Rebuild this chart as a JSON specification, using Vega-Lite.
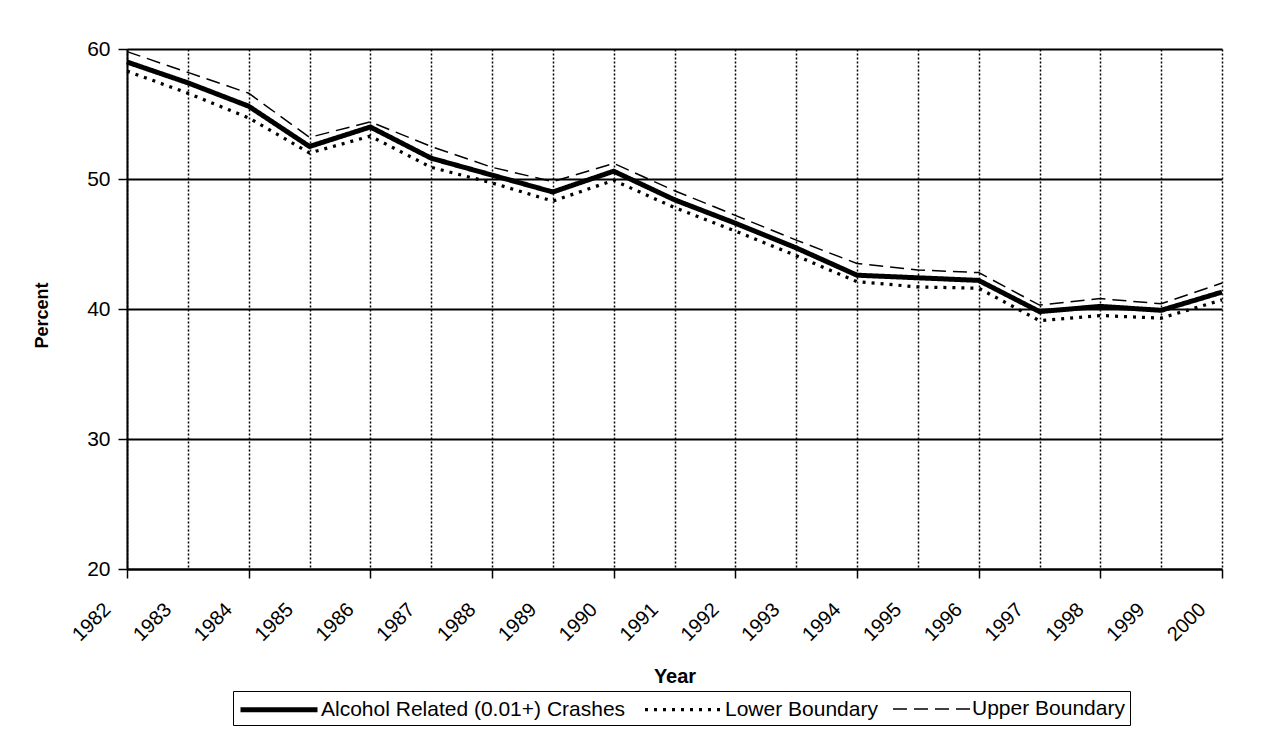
{
  "$schema": "https://vega.github.io/schema/vega-lite/v6.json",
  "width": 1095,
  "height": 520,
  "autosize": {"type": "none"},
  "padding": {"left": 127, "top": 49, "right": 46, "bottom": 167},
  "background": "white",
  "config": {
    "font": "Liberation Sans",
    "view": {"stroke": null}
  },
  "data": {
    "values": [
      {"Year": 1982, "series": "Alcohol Related (0.01+) Crashes", "value": 59.0},
      {"Year": 1983, "series": "Alcohol Related (0.01+) Crashes", "value": 57.4},
      {"Year": 1984, "series": "Alcohol Related (0.01+) Crashes", "value": 55.6},
      {"Year": 1985, "series": "Alcohol Related (0.01+) Crashes", "value": 52.5},
      {"Year": 1986, "series": "Alcohol Related (0.01+) Crashes", "value": 54.0},
      {"Year": 1987, "series": "Alcohol Related (0.01+) Crashes", "value": 51.6},
      {"Year": 1988, "series": "Alcohol Related (0.01+) Crashes", "value": 50.3},
      {"Year": 1989, "series": "Alcohol Related (0.01+) Crashes", "value": 49.0},
      {"Year": 1990, "series": "Alcohol Related (0.01+) Crashes", "value": 50.6},
      {"Year": 1991, "series": "Alcohol Related (0.01+) Crashes", "value": 48.4},
      {"Year": 1992, "series": "Alcohol Related (0.01+) Crashes", "value": 46.6},
      {"Year": 1993, "series": "Alcohol Related (0.01+) Crashes", "value": 44.7},
      {"Year": 1994, "series": "Alcohol Related (0.01+) Crashes", "value": 42.6},
      {"Year": 1995, "series": "Alcohol Related (0.01+) Crashes", "value": 42.4},
      {"Year": 1996, "series": "Alcohol Related (0.01+) Crashes", "value": 42.2},
      {"Year": 1997, "series": "Alcohol Related (0.01+) Crashes", "value": 39.8},
      {"Year": 1998, "series": "Alcohol Related (0.01+) Crashes", "value": 40.2},
      {"Year": 1999, "series": "Alcohol Related (0.01+) Crashes", "value": 39.9},
      {"Year": 2000, "series": "Alcohol Related (0.01+) Crashes", "value": 41.3},
      {"Year": 1982, "series": "Lower Boundary", "value": 58.3},
      {"Year": 1983, "series": "Lower Boundary", "value": 56.6},
      {"Year": 1984, "series": "Lower Boundary", "value": 54.7},
      {"Year": 1985, "series": "Lower Boundary", "value": 52.0},
      {"Year": 1986, "series": "Lower Boundary", "value": 53.3},
      {"Year": 1987, "series": "Lower Boundary", "value": 50.9},
      {"Year": 1988, "series": "Lower Boundary", "value": 49.7},
      {"Year": 1989, "series": "Lower Boundary", "value": 48.3},
      {"Year": 1990, "series": "Lower Boundary", "value": 49.9},
      {"Year": 1991, "series": "Lower Boundary", "value": 47.8},
      {"Year": 1992, "series": "Lower Boundary", "value": 46.0},
      {"Year": 1993, "series": "Lower Boundary", "value": 44.1},
      {"Year": 1994, "series": "Lower Boundary", "value": 42.1},
      {"Year": 1995, "series": "Lower Boundary", "value": 41.7},
      {"Year": 1996, "series": "Lower Boundary", "value": 41.6},
      {"Year": 1997, "series": "Lower Boundary", "value": 39.1},
      {"Year": 1998, "series": "Lower Boundary", "value": 39.5},
      {"Year": 1999, "series": "Lower Boundary", "value": 39.3},
      {"Year": 2000, "series": "Lower Boundary", "value": 40.7},
      {"Year": 1982, "series": "Upper Boundary", "value": 59.8},
      {"Year": 1983, "series": "Upper Boundary", "value": 58.2},
      {"Year": 1984, "series": "Upper Boundary", "value": 56.6},
      {"Year": 1985, "series": "Upper Boundary", "value": 53.2},
      {"Year": 1986, "series": "Upper Boundary", "value": 54.4},
      {"Year": 1987, "series": "Upper Boundary", "value": 52.5},
      {"Year": 1988, "series": "Upper Boundary", "value": 50.9},
      {"Year": 1989, "series": "Upper Boundary", "value": 49.8},
      {"Year": 1990, "series": "Upper Boundary", "value": 51.2},
      {"Year": 1991, "series": "Upper Boundary", "value": 49.1},
      {"Year": 1992, "series": "Upper Boundary", "value": 47.2},
      {"Year": 1993, "series": "Upper Boundary", "value": 45.3},
      {"Year": 1994, "series": "Upper Boundary", "value": 43.5},
      {"Year": 1995, "series": "Upper Boundary", "value": 43.0},
      {"Year": 1996, "series": "Upper Boundary", "value": 42.8},
      {"Year": 1997, "series": "Upper Boundary", "value": 40.3},
      {"Year": 1998, "series": "Upper Boundary", "value": 40.8},
      {"Year": 1999, "series": "Upper Boundary", "value": 40.4},
      {"Year": 2000, "series": "Upper Boundary", "value": 42.0}
    ]
  },
  "mark": {"type": "line", "color": "black", "strokeCap": "butt"},
  "encoding": {
    "x": {
      "field": "Year",
      "type": "quantitative",
      "scale": {"domain": [1982, 2000], "nice": false, "zero": false},
      "axis": {
        "values": [1982, 1983, 1984, 1985, 1986, 1987, 1988, 1989, 1990, 1991, 1992, 1993, 1994, 1995, 1996, 1997, 1998, 1999, 2000],
        "format": "d",
        "labelAngle": -45,
        "labelAlign": "right",
        "labelBaseline": "top",
        "labelOffset": -27,
        "labelPadding": 21,
        "labelFontSize": 20,
        "labelColor": "black",
        "labelOverlap": false,
        "labelFlush": false,
        "tickSize": 9,
        "tickColor": "black",
        "tickWidth": 1.5,
        "tickOpacity": {"condition": {"test": "datum.value % 2 === 1", "value": 0}, "value": 1},
        "grid": true,
        "gridColor": "black",
        "gridDash": [2, 2],
        "gridWidth": 1.5,
        "gridOpacity": 1,
        "domainColor": "black",
        "domainWidth": 2,
        "title": "Year",
        "titleFontSize": 20,
        "titleFontWeight": "bold",
        "titleColor": "black",
        "titleY": 113,
        "titleBaseline": "alphabetic"
      }
    },
    "y": {
      "field": "value",
      "type": "quantitative",
      "scale": {"domain": [20, 60], "nice": false, "zero": false},
      "axis": {
        "values": [20, 30, 40, 50, 60],
        "labelFontSize": 21,
        "labelColor": "black",
        "labelPadding": 8,
        "tickSize": 9,
        "tickColor": "black",
        "tickWidth": 1.5,
        "grid": true,
        "gridColor": "black",
        "gridWidth": 2,
        "gridOpacity": 1,
        "domainColor": "black",
        "domainWidth": 2,
        "title": "Percent",
        "titleFontSize": 18,
        "titleFontWeight": "bold",
        "titleColor": "black",
        "titleX": -80,
        "titleY": 266,
        "titleAngle": 270,
        "titleBaseline": "alphabetic",
        "titleAlign": "center"
      }
    },
    "strokeDash": {
      "field": "series",
      "type": "nominal",
      "scale": {
        "domain": ["Alcohol Related (0.01+) Crashes", "Lower Boundary", "Upper Boundary"],
        "range": [[1, 0], [3, 6], [14, 7]]
      },
      "legend": {
        "title": null,
        "orient": "none",
        "legendX": 106,
        "legendY": 642,
        "direction": "horizontal",
        "symbolType": "M-1,0H6",
        "symbolSize": 484,
        "symbolStrokeColor": "black",
        "symbolFillColor": "transparent",
        "labelFontSize": 21,
        "labelColor": "black",
        "labelOffset": 56,
        "labelLimit": 0,
        "columnPadding": 12,
        "padding": 5,
        "strokeColor": "black",
        "fillColor": "white"
      }
    },
    "strokeWidth": {
      "field": "series",
      "type": "nominal",
      "scale": {
        "domain": ["Alcohol Related (0.01+) Crashes", "Lower Boundary", "Upper Boundary"],
        "range": [5, 1.5, 2]
      },
      "legend": {
        "title": null,
        "orient": "none",
        "legendX": 106,
        "legendY": 642,
        "direction": "horizontal",
        "symbolType": "M-1,0H6",
        "symbolSize": 484,
        "symbolStrokeColor": "black",
        "symbolFillColor": "transparent",
        "labelFontSize": 21,
        "labelColor": "black",
        "labelOffset": 56,
        "labelLimit": 0,
        "columnPadding": 12,
        "padding": 5,
        "strokeColor": "black",
        "fillColor": "white"
      }
    }
  }
}
